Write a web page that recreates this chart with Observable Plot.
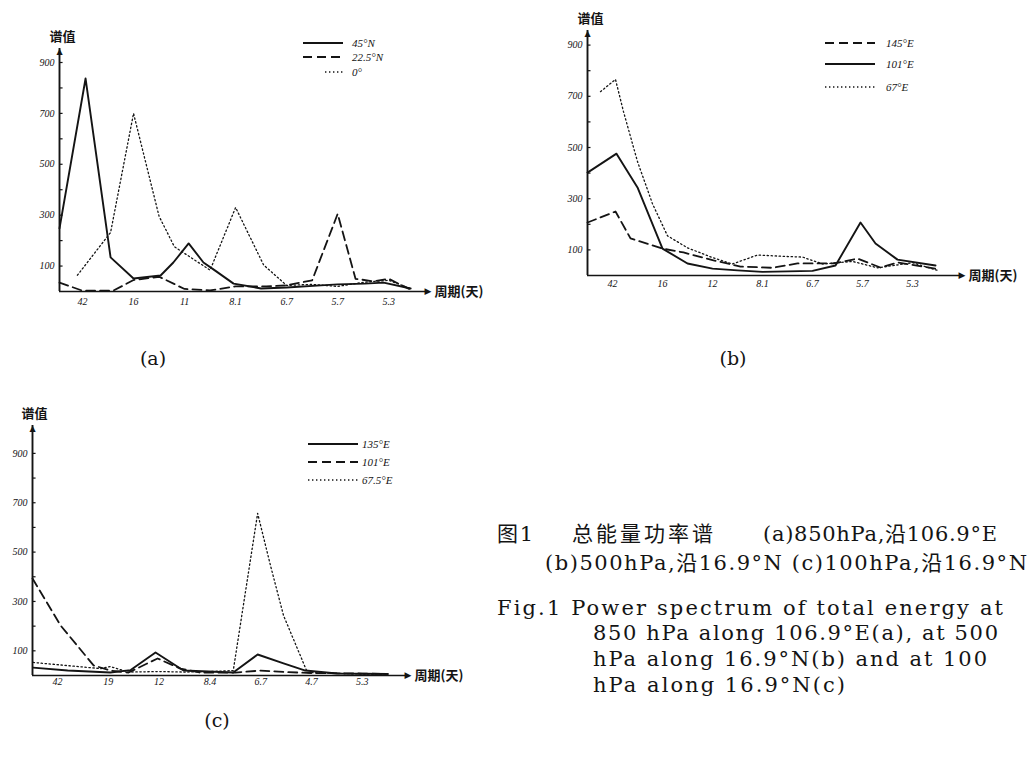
<!DOCTYPE html>
<html><head><meta charset="utf-8">
<script src="https://cdn.jsdelivr.net/npm/d3@7"></script>
<script src="https://cdn.jsdelivr.net/npm/@observablehq/plot@0.6"></script>
<style>
body{margin:0;background:#fff}
#root{position:relative;width:1029px;height:765px;overflow:hidden;background:#fff}
</style></head><body><div id="root"></div>
<script>
// ---------- data ----------
const tickIndex = [1,2,3,4,5,6,7];
const yLabelTicks = [100,300,500,700,900];
const yMinorTicks = [100,200,300,400,500,600,700,800,900];

// (a) 850 hPa along 106.9°E
const aPeriods = ["42","16","11","8.1","6.7","5.7","5.3"];
const aNames = ["45°N","22.5°N","0°"];
const a45X = [0.549,1.06,1.55,2.0,2.53,2.78,3.08,3.37,3.6,3.96,4.5,5.0,5.67,6.0,6.53,6.9,7.43];
const a45V = [248,837,134,51,63,114,189,114,82,31,12,16,24,28,31,35,12];
const a22X = [0.549,1.0,1.6,2.0,2.5,3.0,3.5,4.0,4.6,5.0,5.5,6.0,6.35,6.7,7.0,7.4];
const a22V = [35,3,3,45,58,10,4,20,20,24,44,305,50,40,50,10];
const a0X = [0.9,1.55,2.0,2.5,2.8,3.5,4.0,4.55,5.0,5.5,6.0,6.5,7.0,7.4];
const a0V = [64,232,700,296,176,84,330,104,24,28,20,36,44,14];

// (b) 500 hPa along 16.9°N
const bPeriods = ["42","16","12","8.1","6.7","5.7","5.3"];
const bNames = ["145°E","101°E","67°E"];
const b145X = [0.5,1.06,1.36,2.0,2.42,3.02,3.56,4.2,4.7,5.42,5.9,6.36,6.7,7.46];
const b145V = [207,250,145,105,90,59,35,30,47,47,66,31,51,27];
const b101X = [0.5,1.08,1.5,2.0,2.5,3.0,3.5,4.0,4.5,5.0,5.46,5.96,6.26,6.7,7.46];
const b101V = [402,476,344,105,47,27,20,14,16,18,39,207,125,62,39];
const b67X = [0.76,1.06,1.22,1.5,1.8,2.1,2.5,3.0,3.4,3.9,4.4,4.8,5.2,5.8,6.3,7.0,7.5];
const b67V = [718,766,640,445,280,155,108,70,45,80,75,72,45,55,30,50,20];

// (c) 100 hPa along 16.9°N
const cPeriods = ["42","19","12","8.4","6.7","4.7","5.3"];
const cNames = ["135°E","101°E","67.5°E"];
const c135X = [0.52,1.2,2.04,2.44,2.93,3.48,4.46,4.94,5.45,5.88,6.5,7.5];
const c135V = [32,20,12,22,93,20,12,85,49,20,8,6];
const c101X = [0.508,1.06,1.71,2.04,2.4,2.97,3.42,3.8,4.5,5.0,5.5,6.0,7.0,7.5];
const c101V = [393,203,41,20,12,69,28,12,12,20,14,10,8,6];
const c67X = [0.52,1.2,1.85,2.04,2.4,3.0,3.5,4.0,4.46,4.94,5.2,5.45,5.92,7.0,7.5];
const c67V = [53,40,28,36,14,16,14,16,20,657,440,243,12,6,6];

const yTitle = "谱值";
const xTitle = "周期(天)";
const panelLabels = ["(a)","(b)","(c)"];
const captionCN = ["图 1","总能量功率谱","(a)850hPa,沿106.9°E","(b)500hPa,沿16.9°N (c)100hPa,沿16.9°N"];
const captionEN = ["Fig.1 Power spectrum of total energy at","850 hPa along 106.9°E(a), at 500","hPa along 16.9°N(b) and at 100","hPa along 16.9°N(c)"];

// ---------- helpers ----------
const root = document.getElementById("root");
const pts = (xs, vs) => xs.map((x, i) => ({x, y: vs[i]}));
const INK = "#141414";
const styles = {
  solid: {stroke: INK, strokeWidth: 1.9},
  dashed: {stroke: INK, strokeWidth: 1.8, strokeDasharray: "9,5"},
  dotted: {stroke: INK, strokeWidth: 1.3, strokeDasharray: "1.4,2.6"}
};
const tickFont = {fontSize: 10, fontStyle: "italic", fontFamily: "Liberation Serif, serif"};

function panel(cfg) {
  const [x0, x1] = cfg.xDomain, ymax = cfg.yDomain[1];
  const chart = Plot.plot({
    width: cfg.width, height: cfg.height,
    marginTop: cfg.m[0], marginRight: cfg.m[1], marginBottom: cfg.m[2], marginLeft: cfg.m[3],
    style: {background: "transparent", color: INK, overflow: "visible"},
    x: {domain: cfg.xDomain},
    y: {domain: cfg.yDomain},
    marks: [
      Plot.axisX(tickIndex, {tickSize: 0, tickPadding: cfg.xPad, tickFormat: i => cfg.labels[i - 1], label: null, ...tickFont}),
      Plot.axisY(yLabelTicks, {tickSize: 0, tickPadding: 5, label: null, ...tickFont}),
      Plot.ruleY(yMinorTicks, {y: d => d, x1: x0, x2: x0 + 0.07, stroke: INK, strokeWidth: 1.2}),
      Plot.ruleY([0], {x1: x0, x2: x1, stroke: INK, strokeWidth: 1.6}),
      Plot.ruleX([x0], {y1: 0, y2: ymax, stroke: INK, strokeWidth: 1.9}),
      Plot.text(["▶"], {x: x1, y: 0, text: d => d, textAnchor: "end", dx: 3, fontSize: 9, fill: INK, fontFamily: "DejaVu Sans"}),
      Plot.text(["▲"], {x: x0, y: ymax, text: d => d, textAnchor: "middle", dy: 3, fontSize: 8, fill: INK, fontFamily: "DejaVu Sans"}),
      ...cfg.series.map(s => Plot.line(s.data, {x: "x", y: "y", ...styles[s.style]})),
      Plot.text([xTitle], {x: x1, y: 0, text: d => d, textAnchor: "start", dx: 6, fontSize: 13, fontWeight: "bold", fontFamily: "Noto Sans CJK SC"}),
      Plot.text([yTitle], {x: x0, y: ymax, text: d => d, textAnchor: "middle", dx: cfg.titleDx, dy: -12, fontSize: 13, fontWeight: "bold", fontFamily: "Noto Sans CJK SC"})
    ]
  });
  chart.style.position = "absolute";
  chart.style.left = cfg.left + "px";
  chart.style.top = cfg.top + "px";
  root.appendChild(chart);
}

panel({left: 0, top: 20, width: 480, height: 300, m: [28, 52, 29, 59],
  xDomain: [0.549, 7.78], yDomain: [0, 955], labels: aPeriods, xPad: 6, titleDx: 3,
  series: [
    {data: pts(a45X, a45V), style: "solid"},
    {data: pts(a22X, a22V), style: "dashed"},
    {data: pts(a0X, a0V), style: "dotted"}
  ]});

panel({left: 530, top: 0, width: 499, height: 300, m: [30, 67, 25, 57],
  xDomain: [0.5, 8.0], yDomain: [0, 957], labels: bPeriods, xPad: 4, titleDx: 3,
  series: [
    {data: pts(b145X, b145V), style: "dashed"},
    {data: pts(b101X, b101V), style: "solid"},
    {data: pts(b67X, b67V), style: "dotted"}
  ]});

panel({left: 0, top: 400, width: 480, height: 300, m: [25, 72, 25, 32],
  xDomain: [0.508, 7.91], yDomain: [0, 1013], labels: cPeriods, xPad: 2, titleDx: 2,
  series: [
    {data: pts(c135X, c135V), style: "solid"},
    {data: pts(c101X, c101V), style: "dashed"},
    {data: pts(c67X, c67V), style: "dotted"}
  ]});

// ---------- overlay: legends, panel labels, caption ----------
const svg = d3.select(root).append("svg")
  .attr("width", 1029).attr("height", 765)
  .style("position", "absolute").style("left", "0px").style("top", "0px")
  .style("pointer-events", "none");

function legend(items, x1, x2, tx, ys) {
  items.forEach((it, i) => {
    const st = styles[it.style];
    svg.append("line").attr("x1", it.start ?? x1).attr("x2", x2).attr("y1", ys[i]).attr("y2", ys[i])
      .attr("stroke", st.stroke).attr("stroke-width", st.strokeWidth)
      .attr("stroke-dasharray", st.strokeDasharray || null);
    svg.append("text").attr("x", tx).attr("y", ys[i] + 4).text(it.name)
      .attr("font-family", "Liberation Serif, serif").attr("font-style", "italic")
      .attr("font-size", 11).attr("fill", INK);
  });
}
legend([{name: aNames[0], style: "solid"}, {name: aNames[1], style: "dashed"}, {name: aNames[2], style: "dotted", start: 325}], 303, 343, 352, [43, 57, 72]);
legend([{name: bNames[0], style: "dashed"}, {name: bNames[1], style: "solid"}, {name: bNames[2], style: "dotted"}], 825, 875, 886, [43, 64, 87]);
legend([{name: cNames[0], style: "solid"}, {name: cNames[1], style: "dashed"}, {name: cNames[2], style: "dotted"}], 308, 358, 362, [444, 462, 480]);

const serif = "'DejaVu Serif', 'Noto Sans CJK SC', serif";
[[153, 365], [733, 365], [217, 727]].forEach(([x, y], i) => {
  svg.append("text").attr("x", x).attr("y", y).attr("text-anchor", "middle")
    .attr("font-family", serif).attr("font-size", 19).attr("fill", INK).text(panelLabels[i]);
});

function cap(text, x, y, w, font, size) {
  svg.append("text").attr("x", x).attr("y", y).attr("font-family", font || serif)
    .attr("font-size", size || 21).attr("fill", INK)
    .attr("textLength", w).attr("lengthAdjust", "spacing").text(text);
}
cap(captionCN[0], 497, 541, 36);
cap(captionCN[1], 572, 541, 141, "'Noto Sans CJK SC', sans-serif", 21);
cap(captionCN[2], 763, 541, 234);
cap(captionCN[3], 545, 570, 482);
cap(captionEN[0], 497, 615, 506);
cap(captionEN[1], 593, 640, 405);
cap(captionEN[2], 593, 666, 394);
cap(captionEN[3], 593, 692, 252);
</script></body></html>
